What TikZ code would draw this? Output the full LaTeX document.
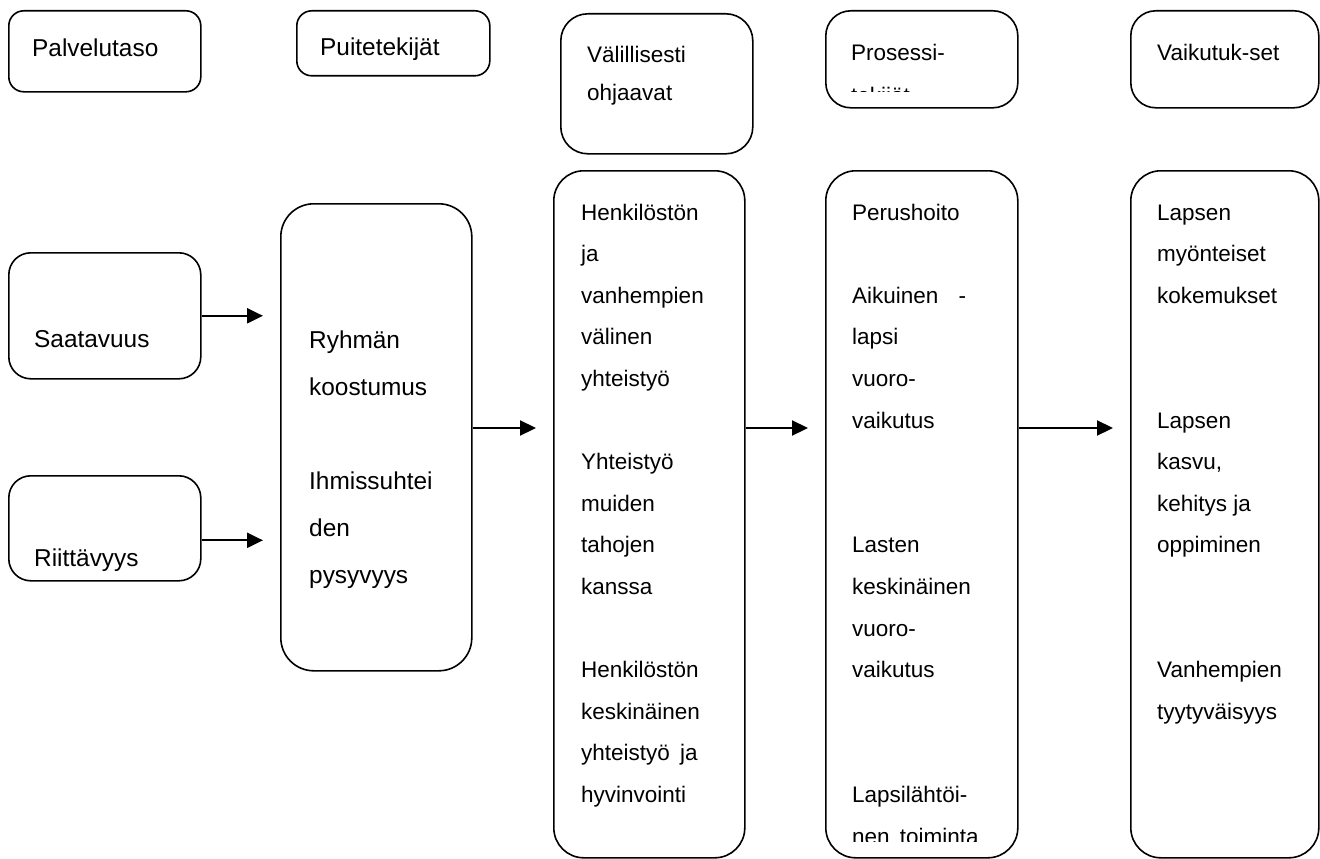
\documentclass[tikz,border=0pt]{standalone}
\usepackage{fontspec}
\setmainfont{Liberation Sans}
\usetikzlibrary{arrows.meta}
\begin{document}
\begin{tikzpicture}[x=1pt,y=-1pt,
  box/.style={draw, line width=1.6pt, anchor=north west, inner sep=0pt},
  lt/.style={anchor=base west, inner sep=0pt, font=\fontsize{24.4}{29}\selectfont},
  rt/.style={anchor=base west, inner sep=0pt, font=\fontsize{22.5}{27}\selectfont},
  arr/.style={-{Triangle[length=16pt,width=15pt]}, line width=2.2pt, shorten >=17pt}]
\useasboundingbox (0,0) rectangle (1320,859);

% header boxes
\node[box, minimum width=192pt, minimum height=81pt, rounded corners=15pt] (pal) at (8,10) {};
\node[box, minimum width=193pt, minimum height=65pt, rounded corners=15pt] (pui) at (296,10) {};
\node[box, minimum width=192pt, minimum height=140pt, rounded corners=27pt] (val) at (560,13) {};
\node[box, minimum width=192pt, minimum height=97pt, rounded corners=25pt] (pro) at (825,10) {};
\node[box, minimum width=188pt, minimum height=97pt, rounded corners=25pt] (vai) at (1130,10) {};

% left boxes
\node[box, minimum width=192pt, minimum height=126pt, rounded corners=22pt] (sa) at (8,252) {};
\node[box, minimum width=192pt, minimum height=105pt, rounded corners=22pt] (ri) at (8,475) {};
\node[box, minimum width=191pt, minimum height=467pt, rounded corners=33pt] (ry) at (280,203) {};

% columns
\node[box, minimum width=191pt, minimum height=687pt, rounded corners=30pt] (ctwo) at (553,170) {};
\node[box, minimum width=192pt, minimum height=687pt, rounded corners=30pt] (cthree) at (825,170) {};
\node[box, minimum width=188pt, minimum height=687pt, rounded corners=30pt] (cfour) at (1130,170) {};

% header texts
\node[lt] (palt) at (32,57) {Palvelutaso};
\node[lt] (puit) at (320,56) {Puitetekijät};
\node[rt] (valt) at (587,63) {Välillisesti};
\node[rt] (valtb) at (587,100) {ohjaavat};
\node[rt] (prot) at (851,61) {Prosessi-};
\begin{scope}
  \clip (825,0) rectangle (1017,91);
  \node[rt] (protb) at (851,103) {tekijät};
\end{scope}
\node[rt] (vait) at (1157,61) {Vaikutuk-set};

% left texts
\node[lt] (sat) at (34,347) {Saatavuus};
\node[lt] (rit) at (34,566) {Riittävyys};
\foreach \t [count=\i] in {Ryhmän,koostumus,{},Ihmissuhtei,den,pysyvyys}
  \node[lt] (ryt\i) at ({309},{301+47*\i}) {\t};

% column texts
\foreach \t [count=\i] in {Henkilöstön,ja,vanhempien,välinen,yhteistyö,{},Yhteistyö,muiden,tahojen,kanssa,{},Henkilöstön,keskinäinen,{yhteistyö\hspace{0.45em}ja},hyvinvointi}
  \node[rt] (ctwot\i) at ({581},{178.4+41.6*\i}) {\t};
\foreach \t [count=\i] in {Perushoito,{},{Aikuinen\hspace{0.9em}-},lapsi,vuoro-,vaikutus,{},{},Lasten,keskinäinen,vuoro-,vaikutus,{},{},Lapsilähtöi-}
  \node[rt] (cthreet\i) at ({852},{178.4+41.6*\i}) {\t};
\begin{scope}
  \clip (825,600) rectangle (1017,841);
  \node[rt] (cthreetl) at (852,844) {nen\hspace{0.45em}toiminta};
\end{scope}
\foreach \t [count=\i] in {Lapsen,myönteiset,kokemukset,{},{},Lapsen,{kasvu,},kehitys ja,oppiminen,{},{},Vanhempien,tyytyväisyys}
  \node[rt] (cfourt\i) at ({1157},{178.4+41.6*\i}) {\t};

% arrows
\coordinate (h) at (0,428);
\coordinate (r2) at ([yshift=-12pt]ri.east);
\draw[arr] (sa.east) -- (sa.east -| ry.west);
\draw[arr] (r2) -- (r2 -| ry.west);
\draw[arr] (ry.east |- h) -- (ctwo.west |- h);
\draw[arr] (ctwo.east |- h) -- (cthree.west |- h);
\draw[arr] (cthree.east |- h) -- (cfour.west |- h);
\end{tikzpicture}
\end{document}
